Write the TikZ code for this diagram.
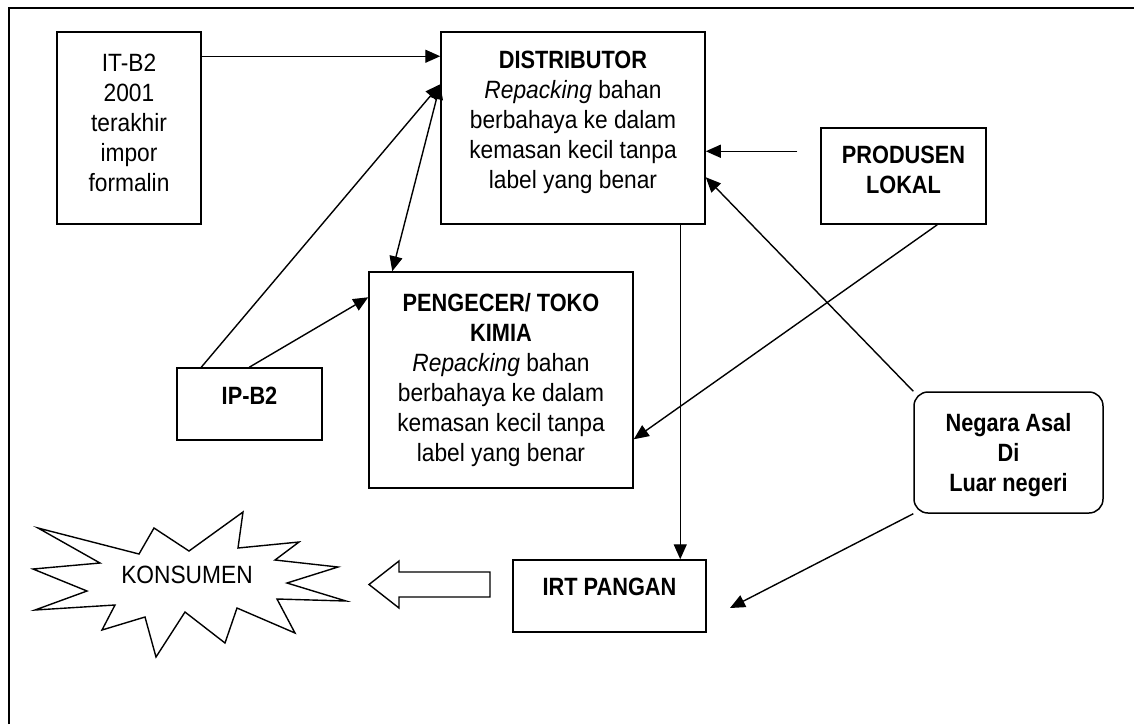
\documentclass[tikz,border=0pt]{standalone}
\usepackage{fontspec}
\setmainfont{Liberation Sans}[FakeStretch=0.91, BoldFeatures={FakeStretch=0.87}]
\usetikzlibrary{arrows.meta}
\begin{document}
\begin{tikzpicture}[x=1pt,y=-1pt,
  box/.style={draw, line width=1.5pt, inner sep=0pt},
  txt/.style={align=center, font=\fontsize{25}{30}\selectfont, inner sep=0pt},
  btxt/.style={txt, font=\fontsize{25}{30}\selectfont\bfseries},
  arr/.style={line width=1.4pt, -{Triangle[length=15pt,width=13pt]}},
  darr/.style={line width=1.4pt, {Triangle[length=15pt,width=13pt]}-{Triangle[length=15pt,width=13pt]}},
  outline/.style={line width=1.4pt}
]
\useasboundingbox (0,0) rectangle (1134,724);
% frame
\draw[line width=1.8pt] (9,724) -- (9,8) -- (1134,8);

% boxes
\node[box, minimum width=144pt, minimum height=192pt] (it) at (129,128) {};
\node[txt] at (129,123) {IT-B2\\2001\\terakhir\\impor\\formalin};

\node[box, minimum width=264pt, minimum height=192pt] (dist) at (573,128) {};
\node[txt] at (573,122) {\textbf{DISTRIBUTOR}\\\textit{Repacking} bahan\\berbahaya ke dalam\\kemasan kecil tanpa\\label yang benar};

\node[box, minimum width=264pt, minimum height=216pt] (peng) at (501,380) {};
\node[txt] at (501,380) {\textbf{PENGECER/ TOKO}\\\textbf{KIMIA}\\\textit{Repacking} bahan\\berbahaya ke dalam\\kemasan kecil tanpa\\label yang benar};

\node[box, minimum width=165pt, minimum height=96pt] (prod) at (903.5,176) {};
\node[btxt] at (903.5,170) {PRODUSEN\\LOKAL};

\node[box, minimum width=145pt, minimum height=72pt] (ip) at (249.5,404) {};
\node[btxt] at (249.5,396) {IP-B2};

\node[box, rounded corners=14pt, minimum width=189pt, minimum height=121pt] (neg) at (1008.5,452.5) {};
\node[btxt] at (1008.5,455) {Negara Asal\\Di\\Luar negeri};

\node[box, minimum width=193pt, minimum height=72pt] (irt) at (609.5,596) {};
\node[btxt] at (609.5,587) {IRT PANGAN};

% starburst
\draw[outline] (38,528) -- (139,554) -- (154,528) -- (189,551) -- (243,512) -- (238,548)
  -- (299,542) -- (275,560) -- (338,567) -- (287,583) -- (346,601) -- (277,599) -- (295,633)
  -- (237,608) -- (225,643) -- (185,612) -- (156,657) -- (145,617) -- (102,630) -- (115,605)
  -- (35,610) -- (87,591) -- (33,569) -- (100,563) -- cycle;
\node[txt] (kons) at (187,575) {KONSUMEN};

% block arrow
\draw[outline] (490,572) -- (399,572) -- (399,561) -- (369,584.5) -- (399,608) -- (399,597) -- (490,597) -- cycle;

% connectors
\coordinate (irtin) at (730,608);
\draw[arr] ([yshift=-25pt]it.north east) -- ([yshift=-25pt]dist.north west);
\draw[arr] ([xshift=25pt]ip.north west) -- ([yshift=-53pt]dist.north west);
\draw[arr] ([xshift=73pt]ip.north west) -- ([yshift=-26pt]peng.north west);
\draw[darr] ([yshift=-53pt]dist.north west) -- ([xshift=24pt]peng.north west);
\draw[arr, shorten <=23pt] ([yshift=-24pt]prod.north west) -- ([yshift=-120pt]dist.north east);
\draw[arr] ([xshift=117pt]prod.south west) -- ([yshift=-168pt]peng.north east);
\draw[arr] (neg.north west) -- ([yshift=-146pt]dist.north east);
\draw[arr] (neg.south west) -- (irtin);
\draw[arr] ([xshift=240pt]dist.south west) -- ([xshift=168pt]irt.north west);
\end{tikzpicture}
\end{document}
